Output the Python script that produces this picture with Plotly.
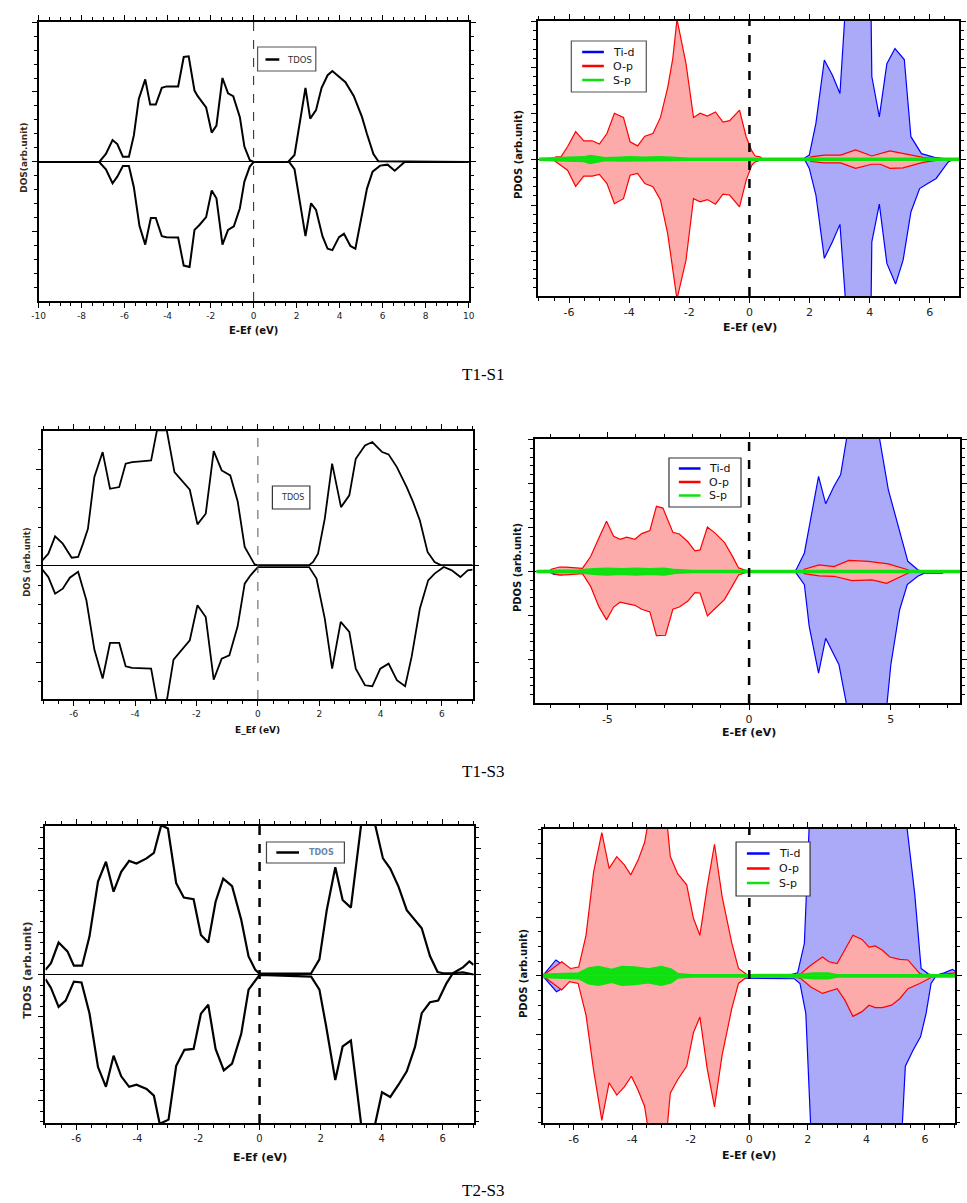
import plotly.graph_objects as go

W, H = 967, 1203

# ======================= DATA (energy E-Ef in eV, DOS in arb. units) =======================
# ---- T1-S1 TDOS ----
t1s1_tdos_up = [(-10, 0), (-7.18, 0), (-6.87, 0.057), (-6.56, 0.157), (-6.34, 0.128), (-6.08, 0.038), (-5.8, 0.038),
                (-5.57, 0.19), (-5.34, 0.45), (-5.04, 0.59), (-4.81, 0.41), (-4.55, 0.41), (-4.27, 0.53), (-4.05, 0.54),
                (-3.51, 0.54), (-3.25, 0.75), (-3.02, 0.755), (-2.75, 0.51), (-2.6, 0.47), (-2.21, 0.39), (-1.95, 0.21),
                (-1.73, 0.26), (-1.45, 0.6), (-1.19, 0.49), (-0.95, 0.47), (-0.64, 0.32), (-0.43, 0.11), (-0.18, 0.014),
                (0, 0), (1.6, 0), (1.9, 0.05), (2.1, 0.24), (2.41, 0.53), (2.63, 0.31), (2.9, 0.37), (3.16, 0.53),
                (3.44, 0.62), (3.66, 0.65), (4.05, 0.60), (4.27, 0.57), (4.66, 0.47), (5.04, 0.32), (5.27, 0.20),
                (5.57, 0.057), (5.8, 0.005), (10, 0)]
t1s1_tdos_dn = [(-10, 0), (-7.18, 0), (-6.87, -0.052), (-6.56, -0.152), (-6.34, -0.105), (-6.08, -0.029), (-5.8, -0.029),
                (-5.57, -0.18), (-5.31, -0.456), (-5.04, -0.59), (-4.78, -0.40), (-4.55, -0.40), (-4.27, -0.53),
                (-4.05, -0.537), (-3.51, -0.54), (-3.25, -0.74), (-2.98, -0.75), (-2.75, -0.485), (-2.52, -0.45),
                (-2.21, -0.394), (-1.95, -0.204), (-1.73, -0.259), (-1.45, -0.59), (-1.19, -0.485), (-0.92, -0.46),
                (-0.64, -0.33), (-0.43, -0.14), (-0.18, -0.033), (0, 0), (1.65, 0), (1.9, -0.052), (2.14, -0.27),
                (2.41, -0.53), (2.67, -0.295), (2.9, -0.342), (3.2, -0.53), (3.44, -0.62), (3.66, -0.63), (3.97, -0.537),
                (4.2, -0.513), (4.5, -0.60), (4.73, -0.62), (5.04, -0.366), (5.27, -0.19), (5.53, -0.069),
                (5.88, -0.026), (6.23, -0.019), (6.56, -0.062), (7.02, 0), (10, 0)]

# ---- T1-S1 PDOS ----
t1s1_tid_up = [(1.77, 0), (1.99, 0.09), (2.21, 0.78), (2.49, 2.16), (2.76, 1.83), (3.01, 1.43), (3.2, 3.4), (3.6, 3.6),
               (4.04, 3.4), (4.07, 1.8), (4.32, 0.92), (4.57, 2.08), (4.84, 2.41), (5.15, 2.17), (5.37, 0.49),
               (5.72, 0.12), (6.15, 0.04), (6.6, 0)]
t1s1_tid_dn = [(1.83, 0), (1.99, -0.2), (2.21, -0.78), (2.49, -2.16), (2.76, -1.8), (3.01, -1.42), (3.23, -3.4),
               (3.6, -3.6), (4.04, -3.4), (4.07, -1.8), (4.32, -0.98), (4.57, -2.27), (4.86, -2.72), (5.11, -2.2),
               (5.37, -1.15), (5.66, -0.64), (5.93, -0.53), (6.21, -0.42), (6.61, -0.06), (6.8, 0)]
t1s1_op_up = [(-6.55, 0), (-6.44, 0.05), (-6.27, 0.05), (-6.05, 0.27), (-5.78, 0.6), (-5.51, 0.4), (-5.23, 0.4),
              (-4.99, 0.33), (-4.74, 0.56), (-4.49, 1.0), (-4.19, 0.91), (-3.97, 0.38), (-3.72, 0.29), (-3.48, 0.5),
              (-3.21, 0.56), (-2.96, 0.91), (-2.72, 1.56), (-2.55, 2.19), (-2.41, 3.05), (-2.11, 2.08), (-1.86, 0.91),
              (-1.64, 1.0), (-1.40, 0.94), (-1.13, 1.03), (-0.88, 0.81), (-0.66, 0.84), (-0.33, 1.07), (-0.11, 0.49),
              (0.08, 0.18), (0.19, 0.07), (0.35, 0.05), (0.45, 0),
              (1.95, 0), (2.05, 0.05), (2.49, 0.09), (3.03, 0.09), (3.53, 0.2), (4.07, 0.07), (4.67, 0.18),
              (5.11, 0.12), (5.77, 0.04), (6.26, 0.01), (6.4, 0)]
t1s1_op_dn = [(-6.55, 0), (-6.44, -0.05), (-6.05, -0.24), (-5.78, -0.59), (-5.51, -0.37), (-5.23, -0.37), (-4.99, -0.33),
              (-4.74, -0.53), (-4.49, -0.97), (-4.19, -0.86), (-3.97, -0.35), (-3.72, -0.31), (-3.48, -0.53),
              (-3.21, -0.6), (-2.96, -0.89), (-2.72, -1.62), (-2.55, -2.35), (-2.41, -3.05), (-2.11, -2.2),
              (-1.86, -0.86), (-1.64, -0.93), (-1.40, -0.88), (-1.13, -0.98), (-0.88, -0.76), (-0.66, -0.78),
              (-0.33, -1.04), (-0.11, -0.46), (0.08, -0.13), (0.19, -0.06), (0.35, -0.03), (0.45, 0),
              (1.95, 0), (2.05, -0.05), (2.49, -0.08), (3.03, -0.08), (3.53, -0.2), (4.07, -0.11), (4.35, -0.11),
              (4.67, -0.2), (5.11, -0.19), (5.77, -0.07), (6.26, -0.02), (6.4, 0)]
t1s1_sp_up = [(-7, 0.01), (-6.3, 0.02), (-5.8, 0.03), (-5.5, 0.04), (-5.3, 0.07), (-5.1, 0.05), (-4.8, 0.02),
              (-4.3, 0.03), (-4.0, 0.04), (-3.5, 0.03), (-3.0, 0.04), (-2.6, 0.03), (-2.0, 0.01), (0, 0.01), (7, 0.01)]
t1s1_sp_dn = [(-7, -0.01), (-6.3, -0.02), (-5.8, -0.03), (-5.5, -0.04), (-5.3, -0.08), (-5.1, -0.05), (-4.8, -0.02),
              (-4.3, -0.03), (-4.0, -0.03), (-3.5, -0.02), (-3.0, -0.03), (-2.6, -0.02), (-2.0, -0.01), (0, -0.01), (7, -0.01)]

# ---- T1-S3 TDOS ----
t1s3_tdos_up = [(-7.02, 0.28), (-6.83, 0.62), (-6.61, 1.52), (-6.36, 1.14), (-6.07, 0.41), (-5.86, 0.45), (-5.7, 1.14),
                (-5.54, 1.91), (-5.33, 4.59), (-5.06, 5.88), (-4.82, 3.98), (-4.52, 4.07), (-4.31, 5.28), (-4.1, 5.36),
                (-3.72, 5.41), (-3.48, 5.45), (-3.29, 7.0), (-2.97, 7.0), (-2.72, 4.84), (-2.49, 4.41), (-2.22, 3.93),
                (-1.97, 2.14), (-1.7, 2.69), (-1.44, 5.93), (-1.18, 4.93), (-0.9, 4.67), (-0.66, 3.34), (-0.43, 0.97),
                (-0.24, 0.45), (-0.11, 0.07), (0, 0.03), (1.67, 0.03), (1.8, 0.19), (1.96, 0.62), (2.18, 2.43),
                (2.42, 5.28), (2.71, 3.03), (2.98, 3.64), (3.19, 5.53), (3.49, 6.22), (3.73, 6.4), (4.05, 5.88),
                (4.26, 5.76), (4.53, 5.1), (4.85, 4.07), (5.06, 3.29), (5.28, 2.34), (5.53, 0.71), (5.76, 0.19),
                (5.96, 0.03), (7.0, 0.03)]
t1s3_tdos_dn = [(-7.02, -0.21), (-6.83, -0.59), (-6.61, -1.45), (-6.36, -1.19), (-6.13, -0.62), (-5.86, -0.31),
                (-5.59, -1.79), (-5.33, -4.34), (-5.06, -5.84), (-4.82, -4.0), (-4.52, -4.0), (-4.31, -5.21),
                (-4.1, -5.29), (-3.48, -5.33), (-3.29, -7.0), (-2.97, -7.0), (-2.75, -4.86), (-2.49, -4.34),
                (-2.22, -3.86), (-1.97, -2.05), (-1.7, -2.66), (-1.44, -5.9), (-1.18, -4.81), (-0.93, -4.64),
                (-0.66, -3.14), (-0.43, -0.93), (-0.24, -0.5), (0, -0.07), (1.67, -0.07), (1.91, -0.67),
                (2.18, -2.74), (2.42, -5.33), (2.7, -2.91), (2.98, -3.43), (3.19, -5.33), (3.49, -6.19),
                (3.73, -6.24), (3.99, -5.33), (4.26, -5.07), (4.53, -5.93), (4.8, -6.24), (5.01, -4.72),
                (5.28, -2.22), (5.55, -0.76), (5.76, -0.41), (6.06, -0.07), (6.32, -0.24), (6.6, -0.59),
                (6.84, -0.24), (7.0, -0.21)]

# ---- T1-S3 PDOS ----
t1s3_tid_up = [(-7.0, 0), (-6.9, 0.06), (-6.6, 0.05), (-6.3, 0.02), (-6.0, 0),
               (1.6, 0), (1.66, 0.04), (1.95, 0.42), (2.12, 1.02), (2.45, 2.16), (2.7, 1.54), (2.99, 1.93),
               (3.23, 2.2), (3.46, 3.1), (4.0, 3.5), (4.58, 3.1), (4.91, 1.86), (5.26, 1.02), (5.6, 0.23),
               (5.95, 0.04), (6.1, 0)]
t1s3_tid_dn = [(-7.0, 0), (-6.9, -0.07), (-6.6, -0.08), (-6.3, -0.02), (-6.0, 0),
               (1.6, 0), (1.66, -0.04), (1.95, -0.3), (2.12, -1.25), (2.45, -2.31), (2.7, -1.52), (3.17, -2.12),
               (3.46, -3.1), (4.2, -3.5), (4.85, -3.1), (5.0, -2.12), (5.31, -0.87), (5.58, -0.3),
               (5.95, -0.11), (6.18, -0.04), (6.82, -0.04), (6.9, 0)]
t1s3_op_up = [(-7.05, 0), (-6.98, 0.05), (-6.69, 0.1), (-6.46, 0.1), (-5.88, 0.07), (-5.59, 0.34), (-5.3, 0.76),
              (-5.03, 1.14), (-4.78, 0.8), (-4.55, 0.73), (-4.32, 0.78), (-4.03, 0.73), (-3.79, 0.86), (-3.5, 0.93),
              (-3.27, 1.48), (-3.04, 1.44), (-2.69, 0.89), (-2.46, 0.85), (-2.17, 0.68), (-1.91, 0.47), (-1.73, 0.49),
              (-1.47, 1.01), (-1.18, 0.86), (-0.87, 0.66), (-0.6, 0.36), (-0.37, 0.08), (-0.2, 0.04), (0, 0),
              (1.9, 0), (1.95, 0.05), (2.47, 0.15), (2.99, 0.11), (3.52, 0.25), (4.21, 0.23), (4.91, 0.17),
              (5.6, 0.04), (5.7, 0)]
t1s3_op_dn = [(-7.05, 0), (-6.98, -0.04), (-6.69, -0.08), (-6.46, -0.08), (-5.88, -0.05), (-5.59, -0.34), (-5.3, -0.8),
              (-5.03, -1.1), (-4.78, -0.81), (-4.55, -0.7), (-4.32, -0.73), (-4.03, -0.77), (-3.79, -0.86),
              (-3.5, -0.92), (-3.27, -1.46), (-2.95, -1.45), (-2.69, -0.86), (-2.46, -0.81), (-2.17, -0.68),
              (-1.91, -0.48), (-1.73, -0.49), (-1.47, -1.01), (-1.18, -0.83), (-0.87, -0.64), (-0.6, -0.34),
              (-0.37, -0.08), (0, 0),
              (1.9, 0), (1.95, -0.05), (2.47, -0.1), (2.99, -0.11), (3.63, -0.21), (4.33, -0.19), (4.85, -0.27),
              (5.6, -0.04), (5.7, 0)]
t1s3_sp_up = [(-7.5, 0.01), (-6.0, 0.02), (-5.5, 0.05), (-5.0, 0.06), (-4.5, 0.05), (-4.0, 0.06), (-3.5, 0.05),
              (-3.0, 0.06), (-2.6, 0.03), (-2.0, 0.01), (0, 0.01), (7.5, 0.01)]
t1s3_sp_dn = [(-7.5, -0.01), (-6.0, -0.02), (-5.5, -0.05), (-5.0, -0.07), (-4.5, -0.05), (-4.0, -0.07), (-3.5, -0.05),
              (-3.0, -0.07), (-2.6, -0.03), (-2.0, -0.01), (0, -0.01), (7.5, -0.01)]

# ---- T2-S3 TDOS ----
t2s3_tdos_up = [(-7.01, 0.11), (-6.83, 0.27), (-6.58, 0.76), (-6.29, 0.55), (-6.08, 0.21), (-5.81, 0.21), (-5.57, 0.9),
                (-5.29, 2.21), (-5.03, 2.68), (-4.78, 1.97), (-4.53, 2.44), (-4.27, 2.7), (-4.03, 2.64), (-3.7, 2.76),
                (-3.46, 2.89), (-3.22, 3.55), (-3.0, 3.47), (-2.73, 2.17), (-2.48, 1.83), (-2.16, 1.79), (-1.92, 0.94),
                (-1.68, 0.76), (-1.44, 1.73), (-1.19, 2.28), (-0.9, 2.1), (-0.6, 1.3), (-0.36, 0.43), (-0.14, 0.11),
                (0, 0.02), (1.69, 0.03), (1.96, 0.36), (2.2, 1.53), (2.48, 2.55), (2.72, 1.77), (2.99, 1.59),
                (3.35, 3.7), (3.74, 3.7), (4.04, 2.76), (4.28, 2.52), (4.55, 2.09), (4.82, 1.53), (5.09, 1.3),
                (5.31, 1.1), (5.58, 0.44), (5.83, 0.06), (6.01, 0.03), (6.33, 0.03), (6.66, 0.17), (6.87, 0.31),
                (7.01, 0.23)]
t2s3_tdos_dn = [(-7.01, -0.11), (-6.83, -0.32), (-6.58, -0.77), (-6.35, -0.62), (-6.08, -0.17), (-5.83, -0.19),
                (-5.57, -0.92), (-5.29, -2.2), (-5.03, -2.67), (-4.78, -1.93), (-4.53, -2.42), (-4.27, -2.67),
                (-4.03, -2.62), (-3.7, -2.72), (-3.46, -2.88), (-3.27, -3.55), (-2.98, -3.45), (-2.73, -2.17),
                (-2.46, -1.79), (-2.16, -1.77), (-1.92, -0.93), (-1.68, -0.72), (-1.44, -1.77), (-1.17, -2.28),
                (-0.9, -2.12), (-0.6, -1.41), (-0.36, -0.36), (-0.14, -0.13), (0, -0.01), (1.69, -0.05),
                (1.96, -0.36), (2.18, -1.23), (2.48, -2.51), (2.72, -1.71), (2.99, -1.57), (3.35, -3.7),
                (3.74, -3.7), (4.01, -2.8), (4.28, -2.91), (4.55, -2.62), (4.82, -2.3), (5.09, -1.72), (5.31, -0.92),
                (5.58, -0.66), (5.85, -0.62), (6.12, -0.21), (6.33, 0.03), (6.66, 0.05), (7.01, 0.0)]

# ---- T2-S3 PDOS ----
t2s3_tid_up = [(-7.06, 0), (-6.61, 0.27), (-6.41, 0.2), (-6.22, 0), (1.43, 0.02), (1.65, 0.05), (1.88, 0.55),
               (2.05, 2.6), (3.5, 3.0), (5.37, 2.6), (5.65, 1.4), (5.87, 0.125), (6.12, 0.03), (6.38, 0.01),
               (6.66, 0.05), (6.94, 0.11), (7.03, 0.08)]
t2s3_tid_dn = [(-7.06, 0), (-6.59, -0.27), (-6.41, -0.22), (-6.22, 0), (1.54, -0.05), (1.73, -0.13), (1.93, -0.64),
               (2.1, -2.6), (3.5, -3.0), (5.22, -2.6), (5.33, -1.54), (5.59, -1.27), (5.85, -1.04), (6.04, -0.64),
               (6.21, -0.13), (6.38, 0)]
t2s3_op_up = [(-7.06, 0), (-6.41, 0.24), (-6.11, 0.125), (-5.83, 0.15), (-5.58, 0.69), (-5.32, 1.77), (-5.04, 2.44),
              (-4.79, 1.83), (-4.53, 2.03), (-4.27, 1.89), (-4.05, 1.72), (-3.8, 1.97), (-3.58, 2.27), (-3.46, 2.6),
              (-3.1, 2.9), (-2.81, 2.6), (-2.7, 2.03), (-2.45, 1.74), (-2.14, 1.55), (-1.91, 0.98), (-1.69, 0.69),
              (-1.44, 1.52), (-1.19, 2.24), (-0.93, 1.35), (-0.6, 0.56), (-0.37, 0.125), (-0.11, 0.03), (0, 0),
              (1.43, 0), (1.77, 0.04), (2.1, 0.18), (2.5, 0.32), (2.72, 0.24), (3.0, 0.21), (3.26, 0.44),
              (3.54, 0.69), (3.85, 0.62), (4.09, 0.49), (4.3, 0.51), (4.54, 0.44), (4.8, 0.32), (5.14, 0.28),
              (5.42, 0.27), (5.82, 0.04), (6.1, 0), (6.5, 0.02), (7.03, 0.05)]
t2s3_op_dn = [(-7.06, 0), (-6.41, -0.24), (-6.14, -0.1), (-5.85, -0.13), (-5.58, -0.67), (-5.32, -1.61),
              (-5.04, -2.46), (-4.79, -1.82), (-4.53, -2.03), (-4.27, -1.89), (-4.03, -1.71), (-3.8, -1.95),
              (-3.58, -2.22), (-3.46, -2.6), (-3.1, -2.9), (-2.81, -2.6), (-2.7, -2.0), (-2.45, -1.77),
              (-2.14, -1.54), (-1.91, -0.97), (-1.69, -0.7), (-1.44, -1.58), (-1.19, -2.23), (-0.93, -1.35),
              (-0.6, -0.56), (-0.37, -0.13), (-0.11, -0.03), (0, 0),
              (1.43, 0), (1.77, -0.05), (2.1, -0.19), (2.5, -0.3), (3.0, -0.22), (3.26, -0.41), (3.54, -0.69),
              (3.85, -0.61), (4.09, -0.5), (4.3, -0.54), (4.54, -0.54), (4.86, -0.5), (5.14, -0.39), (5.42, -0.22),
              (5.82, -0.13), (6.1, -0.05), (6.32, 0), (7.03, 0)]
t2s3_sp_up = [(-7.06, 0.02), (-6.0, 0.03), (-5.83, 0.04), (-5.49, 0.125), (-5.15, 0.15), (-4.7, 0.1), (-4.36, 0.15),
              (-3.91, 0.14), (-3.46, 0.11), (-3.01, 0.15), (-2.68, 0.11), (-2.45, 0.03), (-2.0, 0.01), (0, 0.01),
              (1.7, 0.02), (2.2, 0.04), (2.7, 0.04), (3.0, 0.01), (7.03, 0.01)]
t2s3_sp_dn = [(-7.06, -0.02), (-6.0, -0.03), (-5.83, -0.04), (-5.49, -0.125), (-5.15, -0.15), (-4.7, -0.1),
              (-4.36, -0.15), (-3.91, -0.14), (-3.46, -0.11), (-3.01, -0.15), (-2.68, -0.11), (-2.45, -0.03),
              (-2.0, -0.01), (0, -0.01), (1.7, -0.02), (2.2, -0.04), (2.7, -0.04), (3.0, -0.01), (7.03, -0.01)]

# ---- text / tick labels ----
panel_captions = ["T1-S1", "T1-S3", "T2-S3"]
xticks_10 = [-10, -8, -6, -4, -2, 0, 2, 4, 6, 8, 10]
xticks_6 = [-6, -4, -2, 0, 2, 4, 6]
xticks_5 = [-5, 0, 5]
pdos_names = ["Ti-d", "O-p", "S-p"]

# ======================= FIGURE =======================
fig = go.Figure()
BLUE, RED, GREEN = "#0000ff", "#ff0000", "#10e010"
BLUE_FILL, RED_FILL, GREEN_FILL = "#aaaaf8", "#fdaaaa", "#10e010"


def xs(pairs):
    return [p[0] for p in pairs]


def ys(pairs):
    return [p[1] for p in pairs]


def ax(i):
    return ("x" if i == 1 else f"x{i}"), ("y" if i == 1 else f"y{i}")


def add_tdos(i, up, dn, width):
    xa, ya = ax(i)
    for d in (up, dn):
        fig.add_trace(go.Scatter(x=xs(d), y=ys(d), mode="lines", line=dict(color="black", width=width),
                                 name="TDOS", showlegend=False, xaxis=xa, yaxis=ya, hoverinfo="skip"))


def add_pdos(i, spec):
    xa, ya = ax(i)
    for name, up, dn, col, fcol, lw in spec:
        for d in (up, dn):
            fig.add_trace(go.Scatter(x=xs(d), y=ys(d), mode="lines", fill="tozeroy", fillcolor=fcol,
                                     line=dict(color=col, width=0), showlegend=False,
                                     xaxis=xa, yaxis=ya, hoverinfo="skip"))
        for d in (up, dn):
            fig.add_trace(go.Scatter(x=xs(d), y=ys(d), mode="lines", line=dict(color=col, width=lw),
                                     name=name, showlegend=False, xaxis=xa, yaxis=ya, hoverinfo="skip"))


add_tdos(1, t1s1_tdos_up, t1s1_tdos_dn, 2.0)
add_pdos(2, [(pdos_names[0], t1s1_tid_up, t1s1_tid_dn, BLUE, BLUE_FILL, 1.2),
             (pdos_names[1], t1s1_op_up, t1s1_op_dn, RED, RED_FILL, 1.2),
             (pdos_names[2], t1s1_sp_up, t1s1_sp_dn, GREEN, GREEN_FILL, 2.5)])
add_tdos(3, t1s3_tdos_up, t1s3_tdos_dn, 1.8)
add_pdos(4, [(pdos_names[0], t1s3_tid_up, t1s3_tid_dn, BLUE, BLUE_FILL, 1.2),
             (pdos_names[1], t1s3_op_up, t1s3_op_dn, RED, RED_FILL, 1.2),
             (pdos_names[2], t1s3_sp_up, t1s3_sp_dn, GREEN, GREEN_FILL, 2.5)])
add_tdos(5, t2s3_tdos_up, t2s3_tdos_dn, 2.2)
add_pdos(6, [(pdos_names[0], t2s3_tid_up, t2s3_tid_dn, BLUE, BLUE_FILL, 1.2),
             (pdos_names[1], t2s3_op_up, t2s3_op_dn, RED, RED_FILL, 1.2),
             (pdos_names[2], t2s3_sp_up, t2s3_sp_dn, GREEN, GREEN_FILL, 2.5)])

# ---- layout: panel boxes in pixels (left, top, right, bottom) ----
boxes = {1: (32, 22, 468, 301), 2: (538, 21, 965, 296), 3: (36, 431, 472, 699),
         4: (535, 439, 966, 703), 5: (39, 826, 473, 1123), 6: (543, 829, 961, 1123)}
xranges = {1: [-10, 10], 2: [-7.04, 6.97], 3: [-7.02, 7.0], 4: [-7.56, 7.44], 5: [-7.01, 7.01], 6: [-7.06, 7.03]}
yranges = {1: [-0.993, 1.0], 2: [-2.98, 3.01], 3: [-6.9, 6.97], 4: [-2.99, 3.01], 5: [-3.53, 3.53], 6: [-2.506, 2.5]}
xtickv = {1: xticks_10, 2: xticks_6, 3: xticks_6, 4: xticks_5, 5: xticks_6, 6: xticks_6}
xminor = {1: 0.5, 2: 0.5, 3: 0.5, 4: 1, 5: 0.5, 6: 0.5}
ymajor = {1: 0.5, 2: 1, 3: 5, 4: 1, 5: 1, 6: 1}
yminor = {1: 0.1, 2: 0.2, 3: 1, 4: 0.2, 5: 0.25, 6: 0.25}
tickfs = {1: 9, 2: 11, 3: 9, 4: 11, 5: 10, 6: 11}
frame_w = {1: 2, 2: 1.5, 3: 1.5, 4: 1.5, 5: 2, 6: 2}
zero_w = {1: 1, 2: 1, 3: 1, 4: 1, 5: 1, 6: 1}

lay = dict(width=W, height=H, margin=dict(l=0, r=0, t=0, b=0), paper_bgcolor="white", plot_bgcolor="white",
           showlegend=False)
for i in range(1, 7):
    l, t, r, b = boxes[i]
    xa, ya = ax(i)
    common = dict(showgrid=False, showline=True, linecolor="black", linewidth=frame_w[i], mirror="allticks",
                  ticks="outside", ticklen=5, tickwidth=1, tickcolor="black")
    lay["xaxis" if i == 1 else f"xaxis{i}"] = dict(
        domain=[l / W, r / W], range=xranges[i], tickmode="array", tickvals=xtickv[i],
        ticktext=[str(v) for v in xtickv[i]], anchor=ya, zeroline=False,
        minor=dict(ticks="outside", ticklen=3, dtick=xminor[i], tick0=0, tickcolor="black", showgrid=False),
        tickfont=dict(family="DejaVu Sans", size=tickfs[i], color="#222"), **common)
    lay["yaxis" if i == 1 else f"yaxis{i}"] = dict(
        domain=[1 - b / H, 1 - t / H], range=yranges[i], dtick=ymajor[i], tick0=0, anchor=xa,
        showticklabels=False, zeroline=True, zerolinecolor="black", zerolinewidth=zero_w[i],
        minor=dict(ticks="outside", ticklen=3, dtick=yminor[i], tick0=0, tickcolor="black", showgrid=False),
        **common)
fig.update_layout(**lay)

# Fermi level lines
dash_w = {1: 1, 2: 2.5, 3: 1, 4: 2.5, 5: 2.5, 6: 2.5}
dash_c = {1: "#222", 2: "black", 3: "#555", 4: "black", 5: "black", 6: "black"}
for i in range(1, 7):
    xa, ya = ax(i)
    fig.add_shape(type="line", xref=xa, yref=f"{ya} domain", x0=0, x1=0, y0=0, y1=1,
                  line=dict(color=dash_c[i], width=dash_w[i], dash="dash"), layer="above")


def px(x):
    return x / W


def py(y):
    return 1 - y / H


def note(text, x, y, size, bold=True, angle=0, color="#111", family="DejaVu Sans", xanchor="center", **kw):
    fig.add_annotation(text=f"<b>{text}</b>" if bold else text, x=px(x), y=py(y), xref="paper",
                       yref="paper", showarrow=False, textangle=angle,
                       font=dict(family=family, size=size, color=color), xanchor=xanchor, yanchor="middle", **kw)


def legend_box(box, entries, fs, tcolor="#111", bw=1.2, bcolor="#444", bold=False):
    l, t, r, b = box
    fig.add_shape(type="rect", xref="paper", yref="paper", x0=px(l), x1=px(r), y0=py(b), y1=py(t),
                  line=dict(color=bcolor, width=bw), fillcolor="white", layer="above")
    for (col, lw, x0, x1, tx, y, label) in entries:
        if col is not None:
            fig.add_shape(type="line", xref="paper", yref="paper", x0=px(x0), x1=px(x1), y0=py(y), y1=py(y),
                          line=dict(color=col, width=lw), layer="above")
        note(label, tx, y, fs, bold=bold, color=tcolor, xanchor="left")


# legends
legend_box((254, 47, 313, 71), [("black", 2.5, 262, 276, 282, 59.5, "TDOS")], 8.5, tcolor="#333", bcolor="#555")
legend_box((572, 41, 648, 92), [(BLUE, 2.5, 583, 605, 612, 52, pdos_names[0]),
                                (RED, 2.5, 583, 605, 612, 66, pdos_names[1]),
                                (GREEN, 2.5, 583, 605, 612, 80, pdos_names[2])], 11, bcolor="#555")
legend_box((269, 486, 307, 509), [(None, 0, 0, 0, 276, 497.5, "TDOS")], 8, tcolor="#333", bcolor="#333")
legend_box((671, 458, 744, 507), [(BLUE, 2.5, 681, 703, 710, 468.5, pdos_names[0]),
                                  (RED, 2.5, 681, 703, 710, 482, pdos_names[1]),
                                  (GREEN, 2.5, 681, 703, 710, 495.5, pdos_names[2])], 11, bcolor="#333")
legend_box((263, 842, 342, 863), [("black", 2.5, 273, 296, 304, 852.5, "TDOS")], 8, tcolor="#6a86a8",
           bcolor="#444", bold=True)
legend_box((739, 842, 814, 896), [(BLUE, 2.5, 750, 773, 780, 853.5, pdos_names[0]),
                                  (RED, 2.5, 750, 773, 780, 868.5, pdos_names[1]),
                                  (GREEN, 2.5, 750, 773, 780, 883, pdos_names[2])], 11, bcolor="#333")

# axis titles
note("E-Ef (eV)", 250, 331, 10)
note("E-Ef (eV)", 753, 327, 11)
note("E_Ef (eV)", 254, 730, 9)
note("E-Ef (eV)", 752, 732, 11)
note("E-Ef (eV)", 256, 1157, 11)
note("E-Ef (eV)", 752, 1155, 11)
note("DOS(arb.unit)", 17, 158, 9, angle=-90, color="#3a2a1a")
note("PDOS (arb.unit)", 518, 155, 10, angle=-90)
note("DOS (arb.unit)", 20, 562, 8.5, angle=-90, color="#3a2a1a")
note("PDOS (arb.unit)", 517, 568, 10, angle=-90)
note("TDOS (arb.unit)", 20, 970, 11, angle=-90, color="#3a2a1a")
note("PDOS (arb.unit)", 523, 973, 10, angle=-90)

# captions
for cap, cy in zip(panel_captions, [374, 771, 1190]):
    note(cap, 483, cy, 17, bold=False, family="Liberation Serif", color="black")

fig.write_html("out.html")
